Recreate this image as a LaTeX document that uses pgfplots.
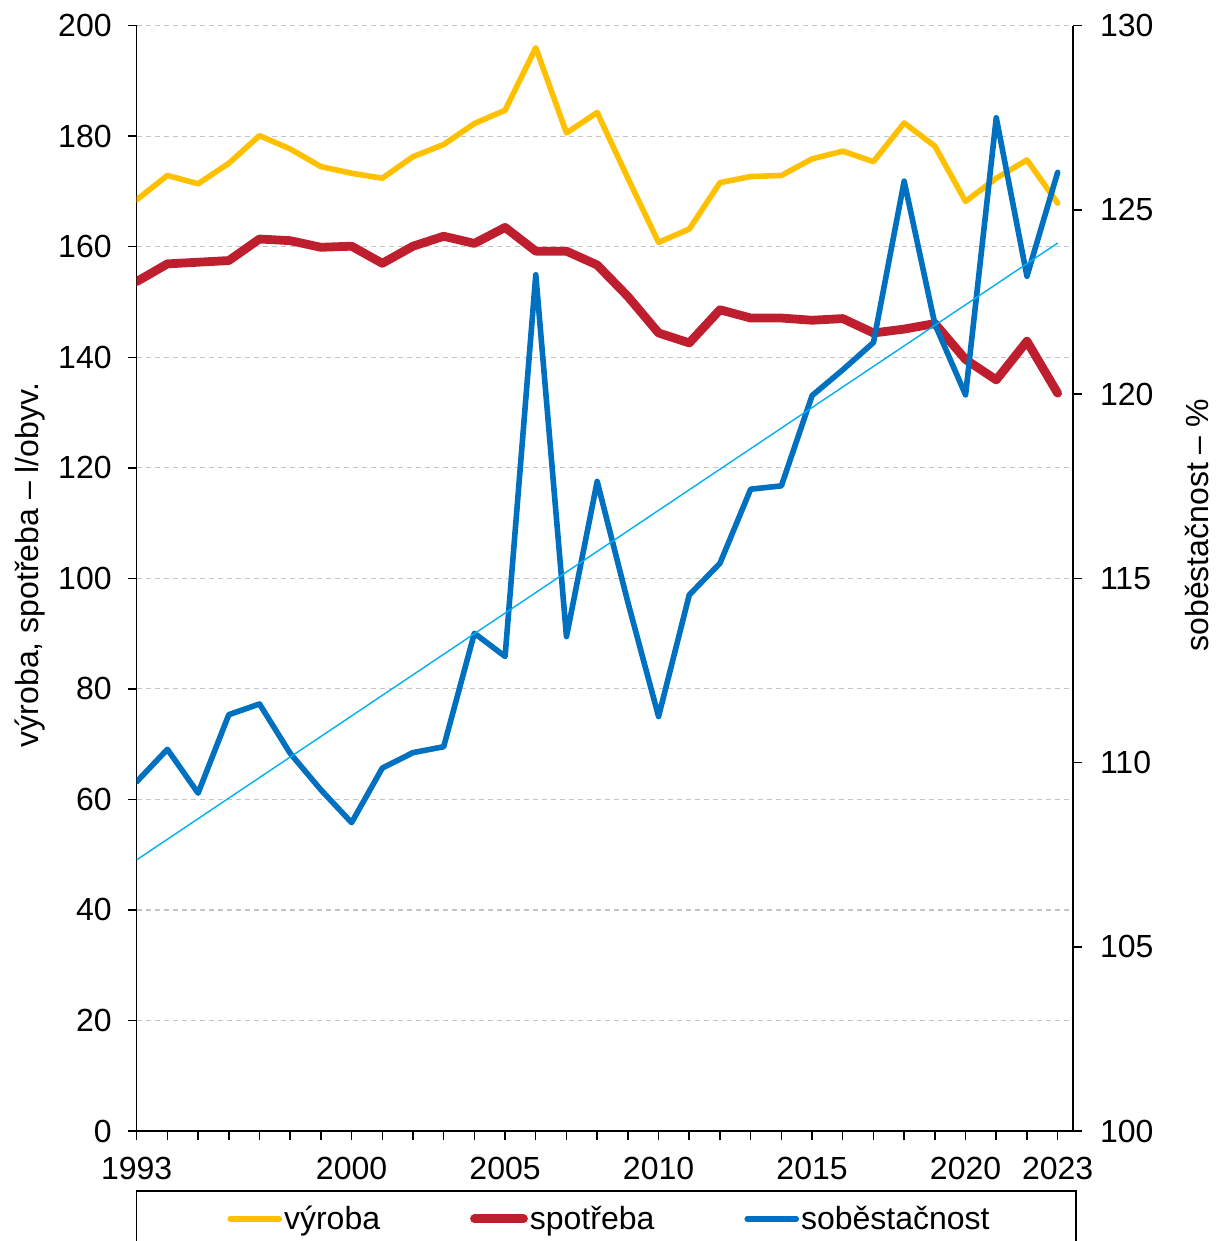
\documentclass[border=0pt]{standalone}
\usepackage{fontspec}
\setmainfont{Liberation Sans}
\usepackage{pgfplots}
\pgfplotsset{compat=1.18}

\definecolor{cyel}{RGB}{255,192,0}
\definecolor{cred}{RGB}{190,30,45}
\definecolor{cblu}{RGB}{0,112,192}
\definecolor{ctrd}{RGB}{0,176,240}
\definecolor{cgrid}{RGB}{196,196,196}

\pgfplotsset{
  base/.style={
    scale only axis, width=468.15pt, height=552.65pt,
    xmin=1993, xmax=2023.5,
    tick align=outside, major tick length=4.5pt, minor tick length=4.5pt,
    every tick/.style={black, line width=0.75pt},
    axis line style={black, line width=0.75pt},
    tick label style={font=\fontsize{16}{19}\selectfont},
    label style={font=\fontsize{16}{19}\selectfont},
    /pgf/number format/assume math mode=true,
    /pgf/number format/1000 sep={},
  },
}

\begin{document}
\begin{tikzpicture}
\begin{axis}[base, name=main,
  axis x line*=bottom, axis y line*=left,
  ymin=0, ymax=200, ytick={0,20,...,200},
  xtick={1993,2000,2005,2010,2015,2020,2023}, minor xtick={1994,...,2022},
  xticklabel style={yshift=-5pt},
  yticklabel style={xshift=-4.5pt},
  ymajorgrids, major grid style={cgrid, dash pattern=on 2.5pt off 2pt, line width=0.6pt},
  ylabel={výroba, spotřeba – l/obyv.},
  ylabel style={at={(axis description cs:-0.114,0.512)}, anchor=center},
  legend columns=3,
  legend style={at={(axis description cs:0.505,-0.0795)}, anchor=center, draw=none, fill=none,
    font=\fontsize{16}{19}\selectfont,
    /tikz/every even column/.append style={column sep=44pt}, nodes={inner sep=1pt}},
  legend image code/.code={\draw[#1, line cap=round] (0pt,0pt) -- (24.5pt,0pt);},
  ]
\addplot[cyel, line width=2.8pt, line join=round, line cap=round] coordinates {
(1993,168.5) (1994,172.9) (1995,171.4) (1996,175.1) (1997,180.1) (1998,177.7)
(1999,174.5) (2000,173.3) (2001,172.4) (2002,176.3) (2003,178.5) (2004,182.3)
(2005,184.7) (2006,196.0) (2007,180.6) (2008,184.3) (2009,172.4) (2010,160.8)
(2011,163.2) (2012,171.6) (2013,172.7) (2014,172.9) (2015,175.9) (2016,177.3)
(2017,175.4) (2018,182.4) (2019,178.2) (2020,168.2) (2021,172.4) (2022,175.7)
(2023,167.9)};
\addlegendentry{výroba}
\addplot[cred, line width=4.4pt, line join=round, line cap=round] coordinates {
(1993,153.7) (1994,156.9) (1995,157.2) (1996,157.5) (1997,161.4) (1998,161.1)
(1999,159.9) (2000,160.1) (2001,157.0) (2002,160.1) (2003,161.9) (2004,160.6)
(2005,163.5) (2006,159.2) (2007,159.2) (2008,156.7) (2009,151.0) (2010,144.4)
(2011,142.6) (2012,148.6) (2013,147.1) (2014,147.1) (2015,146.7) (2016,147.0)
(2017,144.4) (2018,145.1) (2019,146.1) (2020,139.6) (2021,135.9) (2022,142.9)
(2023,133.5)};
\addlegendentry{spotřeba}
\addlegendimage{cblu, line width=2.8pt}
\addlegendentry{soběstačnost}
\end{axis}

\begin{axis}[base,
  axis x line=none, axis y line*=right,
  ymin=100, ymax=130, ytick={100,105,...,130},
  yticklabel style={xshift=5.5pt},
  ylabel={soběstačnost – \%},
  ylabel style={at={(axis description cs:1.1325,0.548)}, anchor=center},
  ]
\addplot[cblu, line width=2.8pt, line join=round, line cap=round] coordinates {
(1993,109.48) (1994,110.36) (1995,109.17) (1996,111.30) (1997,111.59) (1998,110.25)
(1999,109.26) (2000,108.37) (2001,109.85) (2002,110.27) (2003,110.43) (2004,113.51)
(2005,112.88) (2006,123.24) (2007,113.42) (2008,117.63) (2009,114.35) (2010,111.25)
(2011,114.55) (2012,115.41) (2013,117.42) (2014,117.51) (2015,119.96) (2016,120.66)
(2017,121.40) (2018,125.78) (2019,121.90) (2020,119.98) (2021,127.50) (2022,123.20)
(2023,126.02)};
\addplot[ctrd, line width=0.7pt] coordinates {(1993,107.36) (2023,124.10)};
\end{axis}

\draw[line width=0.75pt] ([yshift=-30pt]main.south west) rectangle ([xshift=1.5pt,yshift=-80pt]main.south east);

\pgfresetboundingbox
\path ([shift={(-68.35pt,-55pt)}]main.south west) rectangle ([shift={(71pt,12.85pt)}]main.north east);
\end{tikzpicture}
\end{document}
